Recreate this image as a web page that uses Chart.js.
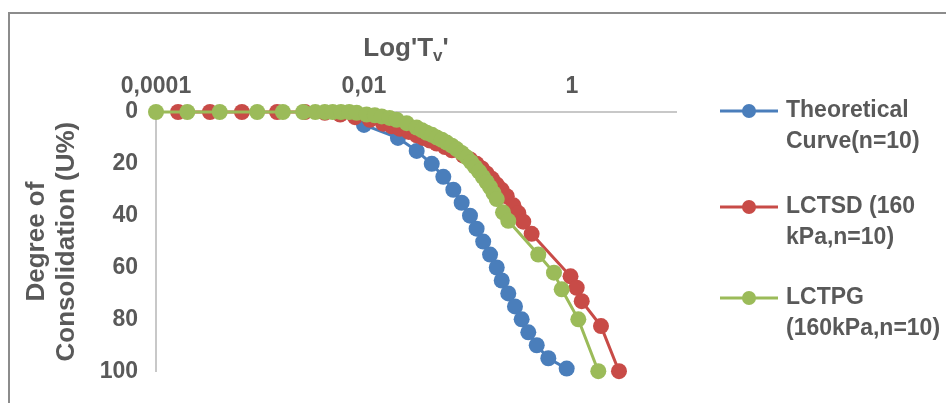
<!DOCTYPE html>
<html>
<head>
  <title>Degree of Consolidation</title>
  <script src="https://cdn.jsdelivr.net/npm/chart.js"></script>
  <style>
    body { margin: 0; background: #fff; }
    #wrap { position: relative; width: 946px; height: 403px; }
    #frame { position: absolute; left: 8px; top: 12px; right: 0; bottom: 0;
             border-top: 2px solid #8c8c8c; border-left: 2px solid #8c8c8c; }
    canvas { position: absolute; left: 0; top: 0; }
  </style>
</head>
<body>
<div id="wrap">
  <div id="frame"></div>
  <canvas id="myChart" width="946" height="403"></canvas>
</div>

<script>
  // Time factor Tv and degree of consolidation U (%) for each curve
  const theoT = [0.01, 0.0212, 0.0321, 0.0448, 0.0579, 0.0723, 0.0869, 0.1045, 0.121, 0.140,
                 0.163, 0.189, 0.211, 0.244, 0.283, 0.328, 0.380, 0.458, 0.592, 0.889];
  const theoU = [5, 10, 15, 20, 25, 30, 35, 40, 45, 50, 55, 60, 65, 70, 75, 80, 85, 90, 95, 99];

  const lctsdT = [0.000163, 0.00033, 0.00067, 0.00146, 0.0027, 0.0042, 0.0059, 0.0082, 0.0114, 0.0153,
                  0.0185, 0.0222, 0.027, 0.0321, 0.037, 0.0431, 0.05, 0.0601, 0.07, 0.0902,
                  0.105, 0.121, 0.136, 0.151, 0.17, 0.189, 0.21, 0.236, 0.273, 0.305,
                  0.34, 0.409, 0.968, 1.11, 1.24, 1.90, 2.83];
  const lctsdU = [0, 0, 0, 0, 0, 0.3, 1, 2, 3, 4.5,
                  5.5, 6.5, 7.7, 9, 10, 11, 12.2, 13.5, 14.8, 16.8,
                  18.3, 20, 21.8, 23.7, 25.8, 28, 30, 32.5, 36, 39,
                  42.3, 47, 63.4, 67.8, 73, 82.6, 100];

  const lctpgT = [0.0001, 0.0002, 0.00041, 0.00094, 0.00166, 0.0026, 0.0034, 0.0042, 0.005, 0.006,
                  0.0072, 0.0085, 0.0106, 0.0127, 0.0148, 0.0176, 0.0206, 0.0257, 0.0321, 0.036,
                  0.0401, 0.045, 0.05, 0.056, 0.0624, 0.07, 0.0778, 0.087, 0.0972, 0.107,
                  0.117, 0.128, 0.139, 0.151, 0.163, 0.176, 0.189, 0.217, 0.244, 0.474,
                  0.671, 0.796, 1.15, 1.79];
  const lctpgU = [0, 0, 0, 0, 0, 0, 0, 0, 0, 0,
                  0, 0.3, 1, 1.3, 1.7, 2.3, 3, 4.3, 6, 7,
                  8, 8.8, 9.8, 10.7, 11.8, 13, 14.3, 15.8, 17.5, 19.3,
                  21.2, 23, 25, 27, 29, 31.3, 33.6, 38.7, 42, 55,
                  62, 68.4, 80, 100];

  const xTicks = [0.0001, 0.01, 1];
  const yTicks = [0, 20, 40, 60, 80, 100];

  const grey = '#595959';
  const fam = '"Liberation Sans", Arial, sans-serif';
  const toPts = (t, u) => t.map((v, i) => ({ x: v, y: u[i] }));

  function series(label, t, u, color, order) {
    return {
      label: label,
      data: toPts(t, u),
      borderColor: color,
      backgroundColor: color,
      pointBackgroundColor: color,
      pointBorderColor: color,
      pointRadius: 8,
      pointBorderWidth: 0,
      borderWidth: 3,
      tension: 0,
      clip: false,
      order: order
    };
  }

  // legend drawn by hand so that labels can wrap on two lines
  const sideLegend = {
    id: 'sideLegend',
    afterDraw(chart) {
      const ctx = chart.ctx;
      const rows = [111, 207, 298];
      ctx.save();
      ctx.font = 'bold 23px ' + fam;
      ctx.textBaseline = 'middle';
      ctx.textAlign = 'left';
      chart.data.datasets.forEach((ds, i) => {
        const y = rows[i];
        ctx.strokeStyle = ds.borderColor;
        ctx.lineWidth = 3;
        ctx.beginPath();
        ctx.moveTo(720, y);
        ctx.lineTo(778, y);
        ctx.stroke();
        ctx.fillStyle = ds.borderColor;
        ctx.beginPath();
        ctx.arc(749, y, 7, 0, Math.PI * 2);
        ctx.fill();
        ctx.fillStyle = grey;
        ds.label.split('\n').forEach((line, j) => {
          ctx.fillText(line, 786, y + j * 31);
        });
      });
      ctx.restore();
    }
  };

  // x axis title with subscript v
  const xTitle = {
    id: 'xTitle',
    afterDraw(chart) {
      const ctx = chart.ctx;
      const a = chart.chartArea;
      const big = 'bold 26px ' + fam;
      const small = 'bold 17px ' + fam;
      ctx.save();
      ctx.fillStyle = grey;
      ctx.textBaseline = 'alphabetic';
      ctx.textAlign = 'left';
      ctx.font = big;
      const w1 = ctx.measureText("Log'T").width;
      const w3 = ctx.measureText("'").width;
      ctx.font = small;
      const w2 = ctx.measureText('v').width;
      let x = (a.left + a.right) / 2 - 10 - (w1 + w2 + w3) / 2;
      const base = 56;
      ctx.font = big;
      ctx.fillText("Log'T", x, base);
      x += w1;
      ctx.font = small;
      ctx.fillText('v', x, base + 5);
      x += w2;
      ctx.font = big;
      ctx.fillText("'", x, base);
      ctx.restore();
    }
  };

  Chart.defaults.font.family = fam;
  Chart.defaults.color = grey;

  new Chart(document.getElementById('myChart'), {
    type: 'line',
    data: {
      datasets: [
        series('Theoretical\nCurve(n=10)', theoT, theoU, '#4a7ebb', 2),
        series('LCTSD (160\nkPa,n=10)', lctsdT, lctsdU, '#c84b47', 1),
        series('LCTPG\n(160kPa,n=10)', lctpgT, lctpgU, '#9bbb59', 0)
      ]
    },
    options: {
      responsive: false,
      animation: false,
      layout: { padding: { left: 0, top: 0, right: 270, bottom: 26 } },
      plugins: { legend: { display: false }, tooltip: { enabled: false } },
      scales: {
        x: {
          type: 'logarithmic',
          position: 'top',
          min: 0.0001,
          max: 10,
          afterBuildTicks: s => { s.ticks = xTicks.map(v => ({ value: v })); },
          afterFit: s => { s.height = 112; },
          grid: { display: false, drawTicks: false },
          border: { display: true, color: '#c8c8c8', width: 2 },
          ticks: {
            padding: 12,
            maxRotation: 0,
            autoSkip: false,
            font: { size: 23, weight: 'bold' },
            callback: v => String(v).replace('.', ',')
          }
        },
        y: {
          type: 'linear',
          reverse: true,
          min: 0,
          max: 100,
          afterBuildTicks: s => { s.ticks = yTicks.map(v => ({ value: v })); },
          afterFit: s => { s.width = 156; },
          grid: { display: false, drawTicks: false },
          border: { display: true, color: '#c8c8c8', width: 2 },
          ticks: { padding: 18, font: { size: 23, weight: 'bold' } },
          title: {
            display: true,
            text: ['Degree of', 'Consolidation (U%)'],
            font: { size: 26, weight: 'bold', lineHeight: 1.15 },
            padding: { top: 22, bottom: 0 }
          }
        }
      }
    },
    plugins: [sideLegend, xTitle]
  });
</script>
</body>
</html>
